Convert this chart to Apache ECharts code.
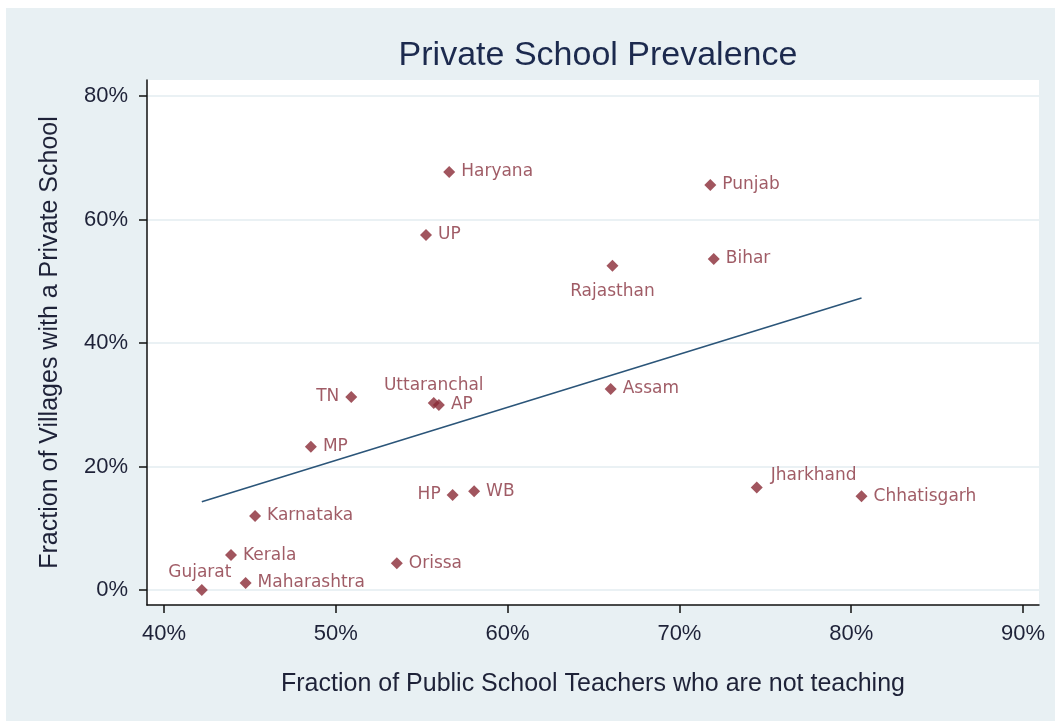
<!DOCTYPE html>
<html><head><meta charset="utf-8">
<script src="https://cdn.jsdelivr.net/npm/echarts@6/dist/echarts.min.js"></script>
<style>html,body{margin:0;padding:0;background:#fff;}#c{position:absolute;left:6px;top:8px;width:1049px;height:713px;}</style>
</head><body><div id="c"></div><script>
const states = ['Haryana','Punjab','UP','Rajasthan','Bihar','Assam','TN','Uttaranchal','AP','MP','HP','WB','Jharkhand','Chhatisgarh','Karnataka','Kerala','Maharashtra','Gujarat','Orissa'];
const xVals = [56.6, 71.8, 55.25, 66.1, 72.0, 66.0, 50.9, 55.7, 56.0, 48.55, 56.8, 58.05, 74.5, 80.6, 45.3, 43.9, 44.75, 42.2, 53.55];
const yVals = [67.7, 65.6, 57.5, 52.5, 53.6, 32.55, 31.25, 30.3, 29.95, 23.2, 15.4, 16.0, 16.6, 15.2, 12.0, 5.65, 1.15, 0.0, 4.35];
const fitX = [42.2, 80.6];
const fitY = [14.3, 47.3];
const xTicks = [40, 50, 60, 70, 80, 90];
const yTicks = [0, 20, 40, 60, 80];
const labelPlacement = {
  'TN': {position: 'left'},
  'HP': {position: 'left'},
  'Rajasthan': {position: 'bottom', distance: 11},
  'Gujarat': {position: 'top', distance: 3, offset: [-2, 0]},
  'Uttaranchal': {position: 'top', distance: 3},
  'Jharkhand': {position: 'right', offset: [2, -12]}
};

const labelColor = '#883340';
const pts = states.map((s, i) => {
  const item = {name: s, value: [xVals[i], yVals[i]]};
  if (labelPlacement[s]) item.label = labelPlacement[s];
  return item;
});

const chart = echarts.init(document.getElementById('c'));
chart.setOption({
  backgroundColor: '#e8f0f3',
  animation: false,
  title: {
    text: 'Private School Prevalence',
    left: 587, textAlign: 'center', top: 26,
    textStyle: {fontFamily: 'Liberation Sans', fontSize: 34, fontWeight: 'normal', color: '#1c2a4e'}
  },
  grid: {left: 141, right: 16, top: 72, bottom: 116, show: true, backgroundColor: '#ffffff', borderWidth: 0},
  xAxis: {
    type: 'value', min: 39.01, max: 90.93,
    axisLine: {show: true, onZero: false, lineStyle: {color: '#111', width: 1.5}},
    axisTick: {show: true, length: 8, customValues: xTicks, lineStyle: {color: '#111', width: 1.5}},
    axisLabel: {customValues: xTicks, formatter: v => v + '%', fontFamily: 'Liberation Sans', fontSize: 22, color: '#1e2238', margin: 18},
    splitLine: {show: false},
    name: 'Fraction of Public School Teachers who are not teaching',
    nameLocation: 'middle', nameGap: 67,
    nameTextStyle: {fontFamily: 'Liberation Sans', fontSize: 25, color: '#1e2238'}
  },
  yAxis: {
    type: 'value', min: -2.43, max: 82.59,
    axisLine: {show: true, onZero: false, lineStyle: {color: '#111', width: 1.5}},
    axisTick: {show: true, length: 8, customValues: yTicks, lineStyle: {color: '#111', width: 1.5}},
    axisLabel: {customValues: yTicks, formatter: v => v + '%', fontFamily: 'Liberation Sans', fontSize: 22, color: '#1e2238', margin: 19},
    splitLine: {show: true, lineStyle: {color: '#e3ecf0', width: 1.5}},
    name: 'Fraction of Villages with a Private School',
    nameLocation: 'middle', nameGap: 84,
    nameTextStyle: {fontFamily: 'Liberation Sans', fontSize: 25, color: '#1e2238'}
  },
  series: [
    {
      type: 'line', data: fitX.map((x, i) => [x, fitY[i]]),
      symbol: 'none', lineStyle: {color: '#2b5579', width: 1.6}, z: 2
    },
    {
      type: 'scatter', data: pts, symbol: 'diamond', symbolSize: 12,
      itemStyle: {color: '#8a2a36'}, z: 3,
      label: {show: true, position: 'right', distance: 6, formatter: '{b}', fontFamily: 'DejaVu Sans', fontSize: 17, color: labelColor}
    }
  ]
});
</script></body></html>
